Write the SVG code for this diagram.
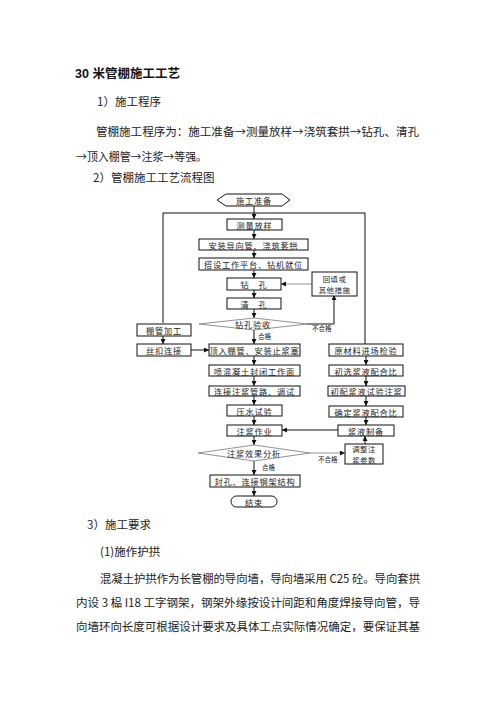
<svg xmlns="http://www.w3.org/2000/svg" width="496" height="702" viewBox="0 0 496 702">
<defs>
<style>
.body{font-family:"Noto Sans CJK SC","Liberation Serif",serif;font-size:11.5px;fill:#222;dominant-baseline:central}
.title{font-family:"Liberation Sans","Noto Sans CJK SC",sans-serif;font-size:12.5px;font-weight:bold;fill:#111;dominant-baseline:central}
.box{fill:#fff;stroke:#111;stroke-width:1}
.lbl{font-family:"Noto Sans CJK SC","Liberation Serif",serif;font-size:8.2px;fill:#222;text-anchor:middle;dominant-baseline:central;letter-spacing:0.8px}
.lbl2{font-family:"Noto Sans CJK SC","Liberation Serif",serif;font-size:7.4px;fill:#222;text-anchor:middle;dominant-baseline:central;letter-spacing:0.5px}
.small{font-family:"Noto Sans CJK SC","Liberation Serif",serif;font-size:6.5px;fill:#222;dominant-baseline:central}
.ln{fill:none;stroke:#111;stroke-width:1}
.lg{fill:none;stroke:#777;stroke-width:0.8}
.dia{fill:#fff;stroke:#777;stroke-width:0.8}
</style>
<marker id="ah" viewBox="0 0 6 6" refX="6" refY="3" markerWidth="5" markerHeight="5" orient="auto" markerUnits="userSpaceOnUse">
<path d="M0,0 L6,3 L0,6 z" fill="#111"/>
</marker>
</defs>
<rect width="496" height="702" fill="#fff"/>

<text class="title" x="75" y="74">30 米管棚施工工艺</text>
<text class="body" x="97" y="101">1）施工程序</text>
<text class="body" x="96" y="131" textLength="323" lengthAdjust="spacingAndGlyphs">管棚施工程序为：施工准备→测量放样→浇筑套拱→钻孔、清孔</text>
<text class="body" x="76" y="156" textLength="131" lengthAdjust="spacingAndGlyphs">→顶入棚管→注浆→等强。</text>
<text class="body" x="93" y="177">2）管棚施工工艺流程图</text>

<g id="connectors">
<polyline class="ln" points="163,323 163,213 365,213 365,344"/>
<line class="ln" x1="254" y1="206" x2="254" y2="219" marker-end="url(#ah)"/>
<line class="ln" x1="254" y1="230" x2="254" y2="239" marker-end="url(#ah)"/>
<line class="ln" x1="254" y1="250" x2="254" y2="258" marker-end="url(#ah)"/>
<line class="ln" x1="254" y1="270" x2="254" y2="278" marker-end="url(#ah)"/>
<line class="ln" x1="254" y1="290" x2="254" y2="298" marker-end="url(#ah)"/>
<line class="ln" x1="254" y1="309" x2="254" y2="318" marker-end="url(#ah)"/>
<line class="ln" x1="254" y1="330" x2="254" y2="344" marker-end="url(#ah)"/>
<line class="ln" x1="254" y1="356" x2="254" y2="365" marker-end="url(#ah)"/>
<line class="ln" x1="254" y1="376" x2="254" y2="386" marker-end="url(#ah)"/>
<line class="ln" x1="254" y1="396" x2="254" y2="405" marker-end="url(#ah)"/>
<line class="ln" x1="254" y1="416" x2="254" y2="425" marker-end="url(#ah)"/>
<line class="ln" x1="254" y1="436" x2="254" y2="445" marker-end="url(#ah)"/>
<line class="ln" x1="254" y1="461" x2="254" y2="475" marker-end="url(#ah)"/>
<line class="ln" x1="254" y1="487" x2="254" y2="496" marker-end="url(#ah)"/>
<line class="ln" x1="163" y1="336" x2="163" y2="344" marker-end="url(#ah)"/>
<line class="ln" x1="191" y1="350" x2="209" y2="350" marker-end="url(#ah)"/>
<line class="lg" x1="312" y1="284" x2="281" y2="284" marker-end="url(#ah)"/>
<polyline class="ln" points="307,324 334,324 334,295" marker-end="url(#ah)"/>
<line class="ln" x1="366" y1="356" x2="366" y2="365" marker-end="url(#ah)"/>
<line class="ln" x1="366" y1="376" x2="366" y2="386" marker-end="url(#ah)"/>
<line class="ln" x1="366" y1="396" x2="366" y2="406" marker-end="url(#ah)"/>
<line class="ln" x1="366" y1="417" x2="366" y2="425" marker-end="url(#ah)"/>
<line class="ln" x1="338" y1="430" x2="282" y2="430" marker-end="url(#ah)"/>
<line class="lg" x1="310" y1="453" x2="345" y2="453" marker-end="url(#ah)"/>
<line class="ln" x1="365" y1="445" x2="365" y2="436" marker-end="url(#ah)"/>
<text class="small" x="258" y="336">合格</text>
<text class="small" x="312" y="328">不合格</text>
<text class="small" x="262" y="467">合格</text>
<text class="small" x="318" y="459">不合格</text>
</g>

<g id="n-start"><polygon class="box" points="217,200 226,194 282,194 290,200 282,206 226,206"/><text class="lbl" x="254" y="200">施工准备</text></g>
<g id="n-survey"><rect class="box" x="227" y="219" width="55" height="11"/><text class="lbl" x="254.5" y="224.5">测量放样</text></g>
<g id="n-guide"><rect class="box" x="199" y="239" width="109" height="11"/><text class="lbl" x="253.5" y="244.5">安装导向管、浇筑套拱</text></g>
<g id="n-platform"><rect class="box" x="199" y="258" width="109" height="12"/><text class="lbl" x="253.5" y="264">搭设工作平台、钻机就位</text></g>
<g id="n-drill"><rect class="box" x="227" y="278" width="54" height="12"/><text class="lbl" x="254" y="284">钻　孔</text></g>
<g id="n-backfill"><rect class="box" x="312" y="272" width="45" height="24"/><text class="lbl2" x="334.5" y="278">回填或</text><text class="lbl2" x="334.5" y="289.5">其他措施</text></g>
<g id="n-clean"><rect class="box" x="227" y="298" width="54" height="11"/><text class="lbl" x="254" y="303.5">清　孔</text></g>
<g id="n-check"><polygon class="dia" points="199,324 254,318 307,324 254,330"/><text class="lbl" x="253" y="324">钻孔验收</text></g>
<g id="n-pipe"><rect class="box" x="137" y="324" width="54" height="12"/><text class="lbl" x="164" y="330">棚管加工</text></g>
<g id="n-thread"><rect class="box" x="137" y="344" width="54" height="12"/><text class="lbl" x="164" y="350">丝扣连接</text></g>
<g id="n-push"><rect class="box" x="209" y="344" width="91" height="12"/><text class="lbl" x="254.5" y="350">顶入棚管、安装止浆塞</text></g>
<g id="n-material"><rect class="box" x="329" y="344" width="74" height="12"/><text class="lbl" x="366" y="350">原材料进场检验</text></g>
<g id="n-shotcrete"><rect class="box" x="209" y="365" width="91" height="11"/><text class="lbl" x="254.5" y="370.5">喷混凝土封闭工作面</text></g>
<g id="n-mix1"><rect class="box" x="329" y="365" width="74" height="11"/><text class="lbl" x="366" y="370.5">初选浆液配合比</text></g>
<g id="n-connect"><rect class="box" x="209" y="386" width="91" height="10"/><text class="lbl" x="254.5" y="391">连接注浆管路、调试</text></g>
<g id="n-trial"><rect class="box" x="328" y="386" width="77" height="10"/><text class="lbl" x="366.5" y="391">初配浆液试验注浆</text></g>
<g id="n-water"><rect class="box" x="227" y="405" width="55" height="11"/><text class="lbl" x="254.5" y="410.5">压水试验</text></g>
<g id="n-mix2"><rect class="box" x="329" y="406" width="74" height="11"/><text class="lbl" x="366" y="411.5">确定浆液配合比</text></g>
<g id="n-grout"><rect class="box" x="227" y="425" width="55" height="11"/><text class="lbl" x="254.5" y="430.5">注浆作业</text></g>
<g id="n-prep"><rect class="box" x="338" y="425" width="56" height="11"/><text class="lbl" x="366" y="430.5">浆液制备</text></g>
<g id="n-analysis"><polygon class="dia" points="198,453 254,445 310,453 254,461"/><text class="lbl" x="254" y="453">注浆效果分析</text></g>
<g id="n-adjust"><rect class="box" x="345" y="444" width="38" height="20"/><text class="lbl2" x="364" y="448.5">调整注</text><text class="lbl2" x="364" y="459">浆参数</text></g>
<g id="n-seal"><rect class="box" x="210" y="475" width="90" height="12"/><text class="lbl" x="255" y="481">封孔、连接钢架结构</text></g>
<g id="n-end"><rect class="box" x="231" y="496" width="46" height="11" rx="5.5"/><text class="lbl" x="254" y="501.5">结束</text></g>

<text class="body" x="87" y="524">3）施工要求</text>
<text class="body" x="100" y="551">(1)施作护拱</text>
<text class="body" x="100" y="578" textLength="320" lengthAdjust="spacingAndGlyphs">混凝土护拱作为长管棚的导向墙，导向墙采用 C25 砼。导向套拱</text>
<text class="body" x="76" y="602" textLength="344" lengthAdjust="spacingAndGlyphs">内设 3 榀 I18 工字钢架，钢架外缘按设计间距和角度焊接导向管，导</text>
<text class="body" x="76" y="626" textLength="344" lengthAdjust="spacingAndGlyphs">向墙环向长度可根据设计要求及具体工点实际情况确定，要保证其基</text>
</svg>
